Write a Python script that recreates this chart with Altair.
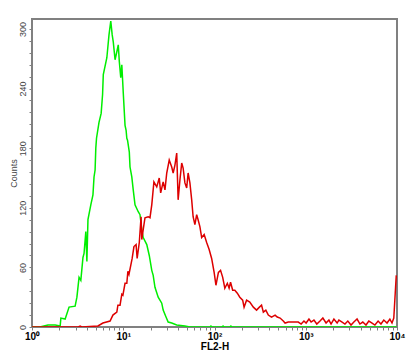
import altair as alt
import pandas as pd

# FL2-H histogram, 1024 log channels over 4 decades (channel -> 10^(ch/256))
green_ch = [0, 22, 45, 65, 79, 81, 93, 104, 121, 126, 132, 137, 143, 146, 151, 154, 157,
            165, 171, 174, 177, 179, 181, 188, 194, 198, 200, 210, 216, 221, 225, 228,
            233, 238, 242, 245, 249, 252, 256, 261, 264, 266, 268, 273, 275, 280, 284,
            289, 298, 303, 308, 312, 322, 329, 336, 340, 345, 354, 364, 368, 376, 382,
            392, 406, 429, 443, 499, 502, 505, 533, 536, 539, 555, 558, 561, 1023]
green_count = [0, 0, 2, 2, 1, 9, 8, 20, 21, 30, 50, 47, 70, 74, 96, 66, 108,
               123, 133, 151, 158, 180, 190, 206, 215, 234, 254, 271, 294, 308, 294, 287,
               269, 277, 284, 267, 251, 264, 236, 203, 198, 190, 188, 176, 161, 151, 138,
               123, 116, 113, 98, 90, 83, 72, 57, 52, 40, 30, 24, 17, 10, 5,
               4, 2, 1, 0, 0, 1, 0, 0, 1, 0, 0, 1, 0, 0]

red_ch = [0, 130, 135, 140, 185, 199, 219, 227, 238, 241, 247, 252, 255, 261, 266, 269,
          272, 281, 286, 292, 295, 301, 306, 308, 312, 317, 326, 331, 336, 342, 350, 357,
          361, 368, 373, 378, 385, 392, 396, 401, 406, 410, 415, 420, 424, 429, 434, 438,
          443, 448, 452, 457, 462, 466, 471, 476, 483, 490, 497, 504, 511, 516, 523, 529,
          535, 541, 548, 553, 557, 563, 569, 576, 583, 591, 595, 602, 611, 621, 630, 638,
          644, 649, 656, 663, 672, 682, 688, 696, 705, 710, 719, 733, 747, 755, 763, 769,
          777, 783, 791, 799, 808, 816, 825, 833, 839, 847, 856, 861, 870, 878, 886, 895,
          903, 912, 920, 928, 937, 945, 954, 962, 971, 979, 987, 996, 1004, 1010, 1015,
          1020, 1022]
red_count = [0, 0, 1, 0, 1, 4, 6, 12, 15, 22, 22, 33, 32, 44, 44, 56,
             53, 69, 81, 83, 69, 85, 111, 88, 98, 110, 111, 110, 123, 146, 141, 150,
             135, 146, 138, 155, 168, 161, 155, 163, 175, 128, 148, 165, 160, 145, 140, 155,
             145, 128, 111, 103, 113, 108, 101, 90, 93, 85, 78, 69, 55, 42, 55, 57,
             50, 39, 44, 39, 45, 37, 37, 34, 30, 27, 20, 27, 25, 20, 17, 20,
             22, 15, 17, 12, 10, 12, 10, 9, 6, 4, 5, 5, 5, 3, 6, 4,
             8, 5, 7, 3, 6, 9, 4, 7, 3, 8, 4, 7, 5, 3, 6, 2,
             5, 8, 3, 5, 2, 6, 4, 2, 6, 3, 7, 4, 8, 4, 9,
             40, 52]

x_ticks = [d * 10 ** e for e in range(4) for d in range(1, 10)] + [10000]
y_ticks = list(range(0, 301, 12))

df = pd.concat([
    pd.DataFrame({"ch": green_ch, "count": green_count, "sample": "green"}),
    pd.DataFrame({"ch": red_ch, "count": red_count, "sample": "red"}),
])

x_label_expr = ("datum.value == 1 ? '10\u2070' : datum.value == 10 ? '10\u00b9' : "
                "datum.value == 100 ? '10\u00b2' : datum.value == 1000 ? '10\u00b3' : "
                "datum.value == 10000 ? '10\u2074' : ''")

base = alt.Chart().transform_calculate(
    fl2h="pow(10, datum.ch / 256)"
).encode(
    x=alt.X("fl2h:Q", title="FL2-H",
            scale=alt.Scale(type="log", domain=[1, 10000], nice=False),
            axis=alt.Axis(values=x_ticks, labelExpr=x_label_expr, labelOverlap=False,
                          labelFlush=False, grid=False, tickSize=3, tickColor="#808080",
                          domainColor="#808080", labelFont="Liberation Sans",
                          labelFontSize=10, labelFontWeight="bold", labelColor="#000000",
                          labelPadding=1, titleFont="Liberation Sans", titleFontSize=10,
                          titleFontWeight="bold", titleColor="#000000", titlePadding=0,
                          titleBaseline="alphabetic", titleY=22)),
    y=alt.Y("count:Q", title="Counts",
            scale=alt.Scale(domain=[0, 310], nice=False, zero=True),
            axis=alt.Axis(values=y_ticks, labelExpr="datum.value % 60 == 0 ? datum.label : ''",
                          labelOverlap=False, labelAngle=270, grid=False, tickSize=3,
                          tickColor="#808080", domainColor="#808080",
                          labelFont="Liberation Sans", labelFontSize=9, labelColor="#444444",
                          labelPadding=2, titleFont="Liberation Sans", titleFontSize=9,
                          titleFontWeight="normal", titleColor="#444444",
                          titleBaseline="middle", titleX=-19)),
)

green = base.mark_line(color="#00ee00", strokeWidth=1.5, clip=True).transform_filter(
    "datum.sample == 'green'")
red = base.mark_line(color="#dd0000", strokeWidth=1.5, clip=True).transform_filter(
    "datum.sample == 'red'")

chart = alt.layer(green, red, data=df).properties(
    width=365, height=308,
    autosize=alt.AutoSizeParams(type="none"),
    padding={"left": 24, "top": 11, "right": 10, "bottom": 25},
).configure_view(stroke="#808080", strokeWidth=2)

chart.save("out.html", embed_options={"renderer": "svg", "actions": False})
